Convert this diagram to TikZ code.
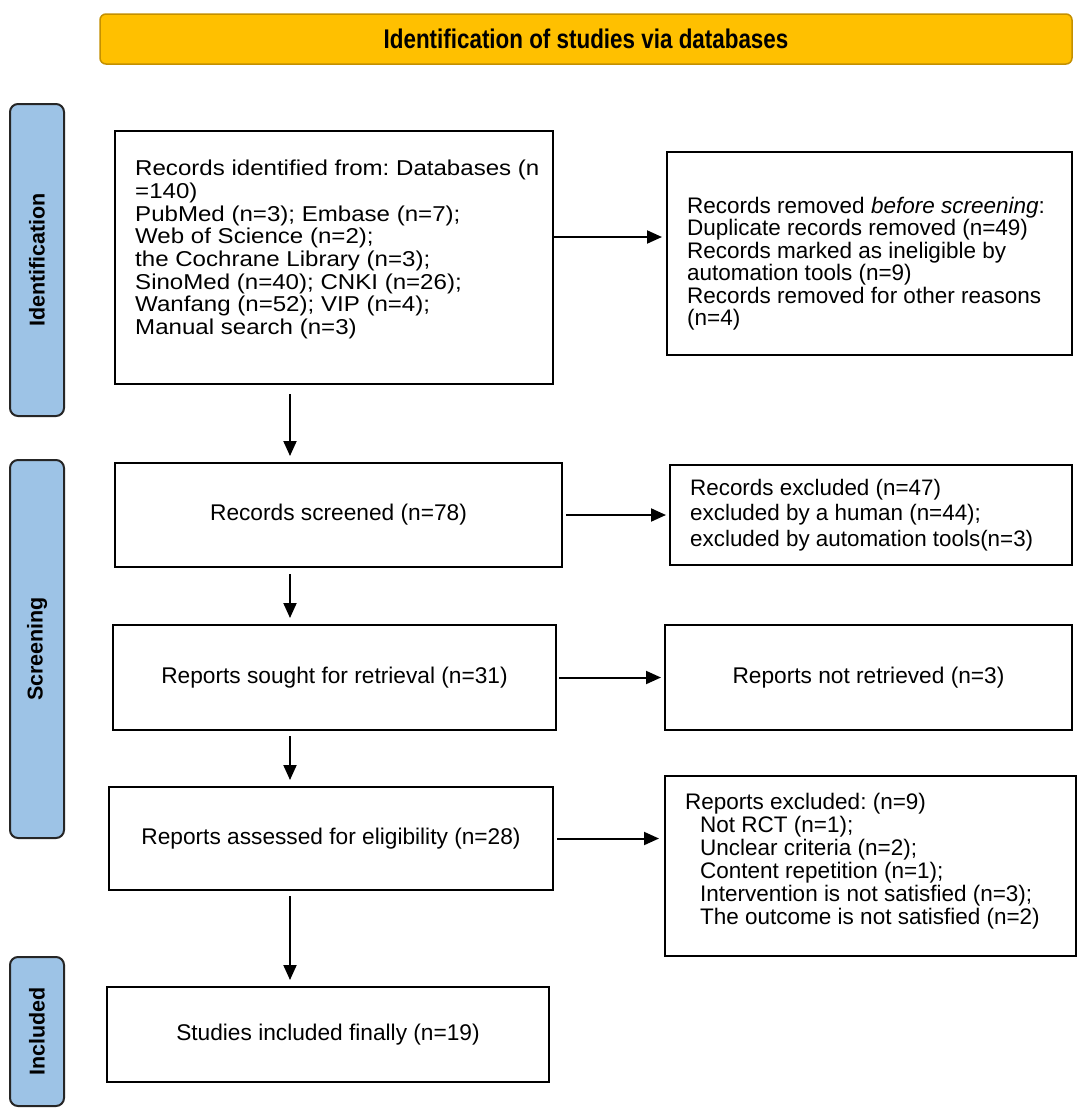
\documentclass[tikz,border=0pt]{standalone}
\usepackage{fontspec}
\setmainfont{Liberation Sans}
\newfontfamily\hdrfont[FakeStretch=0.83]{Liberation Sans}
\newfontfamily\widefont[FakeStretch=1.12]{Liberation Sans}
\usetikzlibrary{arrows.meta}
\definecolor{hdrfill}{HTML}{FFC000}
\definecolor{hdrdraw}{HTML}{C49000}
\definecolor{sidefill}{HTML}{9DC3E6}
\definecolor{sidedraw}{HTML}{262626}
\frenchspacing
\begin{document}
\frenchspacing
\begin{tikzpicture}[x=1pt,y=-1pt,
  box/.style={draw, line width=2pt, inner sep=0pt, fill=white, font=\fontsize{22.7}{25.5}\selectfont},
  txt/.style={align=left, inner sep=0pt, anchor=north west},
  side/.style={draw=sidedraw, fill=sidefill, line width=2pt, rounded corners=8pt, inner sep=0pt,
    minimum width=54pt},
  sidetxt/.style={rotate=90, inner sep=0pt, font=\fontsize{21.5}{24}\selectfont\bfseries},
  arr/.style={line width=2pt, -{Triangle[length=15pt,width=13pt]}}
]
\useasboundingbox (0,0) rectangle (1084,1117);
\fill[white] (0,0) rectangle (1084,1117);

% header
\node[draw=hdrdraw, fill=hdrfill, line width=1.5pt, rounded corners=6pt, minimum width=972pt,
  minimum height=50pt, inner sep=0pt, font=\hdrfont\fontsize{27}{30}\selectfont\bfseries]
  (hdr) at (586,39) {Identification of studies via databases};

% side labels
\node[side, minimum height=312pt] (s1) at (37,260) {};
\node[sidetxt] (s1t) at (s1) {Identification};
\node[side, minimum height=378pt] (s2) at (37,649) {};
\node[sidetxt] (s2t) at (s2) {Screening};
\node[side, minimum height=149pt] (s3) at (37,1031.5) {};
\node[sidetxt] (s3t) at (s3) {Included};

% main column
\node[box, minimum width=438pt, minimum height=253pt] (b1) at (334,257.5) {};
\node[txt, font=\widefont\fontsize{21.5}{22.7}\selectfont] (b1t) at (135,160)
 {Records identified from: Databases (n\\=140)\\PubMed (n=3); Embase (n=7);\\Web of Science (n=2);\\the Cochrane Library (n=3);\\SinoMed (n=40); CNKI (n=26);\\Wanfang (n=52); VIP (n=4);\\Manual search (n=3)};
\node[box, minimum width=447pt, minimum height=104pt] (b2) at (338.5,515) {Records screened (n=78)};
\node[box, minimum width=443pt, minimum height=105pt] (b3) at (334.5,677.5) {Reports sought for retrieval (n=31)};
\node[box, minimum width=444pt, minimum height=103pt] (b4) at (331,838.5) {Reports assessed for eligibility (n=28)};
\node[box, minimum width=442pt, minimum height=95pt] (b5) at (328,1034.5) {Studies included finally (n=19)};

% right column
\node[box, minimum width=405pt, minimum height=203pt] (r1) at (869.5,253.5) {};
\node[txt, font=\fontsize{22.5}{22.4}\selectfont] (r1t) at (687,197)
 {Records removed \textit{before screening}:\\Duplicate records removed (n=49)\\Records marked as ineligible by\\automation tools (n=9)\\Records removed for other reasons\\(n=4)};
\node[box, minimum width=402pt, minimum height=100pt] (r2) at (871,515) {};
\node[txt, font=\fontsize{22.4}{25.5}\selectfont] (r2t) at (690,479)
 {Records excluded (n=47)\\excluded by a human (n=44);\\excluded by automation tools(n=3)};
\node[box, minimum width=407pt, minimum height=105pt] (r3) at (868.5,677.5) {Reports not retrieved (n=3)};
\node[box, minimum width=411pt, minimum height=180pt] (r4) at (870.5,866) {};
\node[txt, font=\fontsize{22.5}{23}\selectfont] (r4t) at (685,793)
 {Reports excluded: (n=9)\\\hspace*{15pt}Not RCT (n=1);\\\hspace*{15pt}Unclear criteria (n=2);\\\hspace*{15pt}Content repetition (n=1);\\\hspace*{15pt}Intervention is not satisfied (n=3);\\\hspace*{15pt}The outcome is not satisfied (n=2)};

% connectors
\coordinate (sp) at (290,0);
\draw[arr, shorten <=9pt, shorten >=6pt] (b1.south -| sp) -- (b2.north -| sp);
\draw[arr, shorten <=6pt, shorten >=6pt] (b2.south -| sp) -- (b3.north -| sp);
\draw[arr, shorten <=5pt, shorten >=6pt] (b3.south -| sp) -- (b4.north -| sp);
\draw[arr, shorten <=5pt, shorten >=6pt] (b4.south -| sp) -- (b5.north -| sp);
\coordinate (a1) at ([yshift=20.5pt]b1.east);
\draw[arr, shorten >=4pt] (a1) -- (a1 -| r1.west);
\draw[arr, shorten <=3pt, shorten >=3pt] (b2.east) -- (b2.east -| r2.west);
\draw[arr, shorten <=2pt, shorten >=3pt] (b3.east) -- (b3.east -| r3.west);
\draw[arr, shorten <=3pt, shorten >=5pt] (b4.east) -- (b4.east -| r4.west);
\end{tikzpicture}
\end{document}
